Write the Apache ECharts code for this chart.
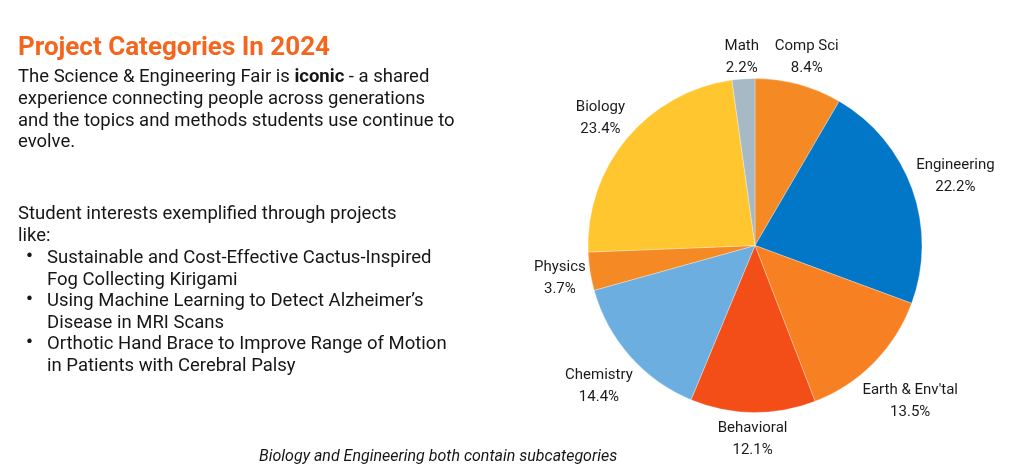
<!DOCTYPE html>
<html><head><meta charset="utf-8">
<script src="https://cdn.jsdelivr.net/npm/echarts@6/dist/echarts.min.js"></script>
<style>html,body{margin:0;padding:0;background:#fff}#c{width:1010px;height:475px}</style>
</head><body><div id="c"></div>
<script>
const categories = ['Comp Sci','Engineering',"Earth & Env'tal",'Behavioral','Chemistry','Physics','Biology','Math'];
const shares = [8.4, 22.2, 13.5, 12.1, 14.4, 3.7, 23.4, 2.2];
const colors = ['#F58A25','#0277C8','#F68022','#F34E18','#6BAEDF','#F58A25','#FFC62F','#A6B9C4'];
const titleText = 'Project Categories In 2024';
const introLines = ['The Science & Engineering Fair is {b|iconic} - a shared','experience connecting people across generations','and the topics and methods students use continue to','evolve.'];
const interestLines = ['Student interests exemplified through projects','like:'];
const projects = [['Sustainable and Cost-Effective Cactus-Inspired','Fog Collecting Kirigami'],['Using Machine Learning to Detect Alzheimer\u2019s','Disease in MRI Scans'],['Orthotic Hand Brace to Improve Range of Motion','in Patients with Cerebral Palsy']];
const caption = 'Biology and Engineering both contain subcategories';

const FONT = 'Roboto, "Noto Sans", sans-serif';
const CX = 755, CY = 245.5, R = 167, GAP = 1.5, DY = 2.5;
const chart = echarts.init(document.getElementById('c'));
const data = categories.map((n,i)=>({name:n, value:shares[i], itemStyle:{color:colors[i]}}));
const graphics = [
  {type:'text', left:18, top:35, style:{text:titleText, font:'bold 26px '+FONT, fill:'#F4661E'}},
  {type:'text', left:18, top:67, style:{text:introLines.join('\n'), font:'18.5px '+FONT, fill:'#161616', lineHeight:21.6, rich:{b:{fontWeight:'bold', fontSize:18.5, fontFamily:FONT, fill:'#161616', lineHeight:21.6}}}},
  {type:'text', left:18, top:204, style:{text:interestLines.join('\n'), font:'18.5px '+FONT, fill:'#161616', lineHeight:21.6}},
  {type:'text', left:259, top:449, style:{text:caption, font:'italic 16px '+FONT, fill:'#161616'}}
];
projects.forEach((p,i)=>{
  const top = 247.5 + i*43;
  graphics.push({type:'text', left:26, top:top, style:{text:'\u2022', font:'bold 19px '+FONT, fill:'#161616'}});
  graphics.push({type:'text', left:47, top:top, style:{text:p.join('\n'), font:'18.5px '+FONT, fill:'#161616', lineHeight:21.6}});
});
chart.setOption({
  animation:false,
  graphic: graphics,
  series:[
    {type:'pie', center:[CX,CY], radius:R, startAngle:90, clockwise:true, data:data, silent:true,
     itemStyle:{borderColor:'rgba(255,255,255,0.6)', borderWidth:0.5},
     labelLine:{show:false},
     label:{show:true, position:'inside', formatter:p=>p.name+'\n'+p.value.toFixed(1)+'%', color:'#1b1b1b', fontFamily:FONT, fontSize:15, lineHeight:22},
     labelLayout: function(params){
       const r = params.labelRect;
       const mx = r.x + r.width/2, my = r.y + r.height/2;
       let ux = mx - CX, uy = my - CY;
       const d = Math.sqrt(ux*ux+uy*uy) || 1;
       ux /= d; uy /= d;
       const h = Math.abs(ux)*r.width/2 + Math.abs(uy)*r.height/2;
       const dist = R + GAP + h;
       return {x: CX + ux*dist, y: CY + uy*dist + DY, align:'center', verticalAlign:'middle'};
     }}
  ]
});
</script></body></html>
